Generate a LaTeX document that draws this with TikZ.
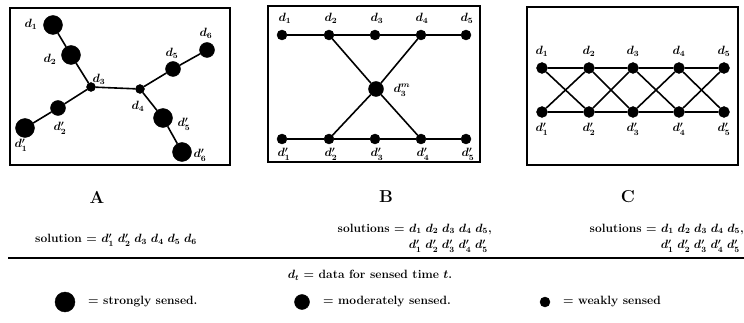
\documentclass[tikz,border=0pt]{standalone}
\usepackage{amsmath,amssymb}
\usepackage{tikz}
\usetikzlibrary{positioning}
\pgfdeclarelayer{edgelayer}
\pgfdeclarelayer{nodelayer}
\pgfsetlayers{edgelayer,nodelayer,main}
\tikzstyle{none}=[inner sep=0mm]
\tikzstyle{lbl}=[inner sep=0mm,font=\large\bfseries\boldmath]
\tikzstyle{black dot}=[inner sep=0mm,minimum width=0pt,minimum height=0pt,fill=black,draw=black,shape=circle]
\tikzstyle{strong}=[black dot,minimum size=19pt]
\tikzstyle{moderate}=[black dot,minimum size=15pt]
\tikzstyle{weak}=[black dot,minimum size=9pt]
\tikzstyle{plain}=[black dot,minimum size=11pt]
\tikzstyle{link}=[line width=1.6pt]
\tikzstyle{frame}=[line width=1.4pt]
\begin{document}
\begin{tikzpicture}[x=1pt,y=-1pt]
	\useasboundingbox (0,0) rectangle (744,323);
	% frames
	\draw[style=frame] (10,8) rectangle (230,165);
	\draw[style=frame] (268,6) rectangle (480,162);
	\draw[style=frame] (527,7) rectangle (738,165);
	\begin{pgfonlayer}{nodelayer}
		% panel A
		\node [style=strong] (a1) at (53,25) {};
		\node [style=strong] (a2) at (71,55) {};
		\node [style=weak] (a3) at (91,87) {};
		\node [style=weak] (a4) at (140,89) {};
		\node [style=moderate] (a5) at (173,69) {};
		\node [style=moderate] (a6) at (207,50) {};
		\node [style=moderate] (ap2) at (58,108) {};
		\node [style=strong] (ap1) at (25,128) {};
		\node [style=strong] (ap5) at (163,118) {};
		\node [style=strong] (ap6) at (182,152) {};
		\node [style=lbl] (la1) at (31,24) {$d_1$};
		\node [style=lbl] (la2) at (50,59) {$d_2$};
		\node [style=lbl] (la3) at (99,79) {$d_3$};
		\node [style=lbl] (la4) at (138,106) {$d_4$};
		\node [style=lbl] (la5) at (172,53) {$d_5$};
		\node [style=lbl] (la6) at (206,33) {$d_6$};
		\node [style=lbl] (lap2) at (60,128) {$d'_2$};
		\node [style=lbl] (lap1) at (21,145) {$d'_1$};
		\node [style=lbl] (lap5) at (184,124) {$d'_5$};
		\node [style=lbl] (lap6) at (200,155) {$d'_6$};
		% panel B
		\node [style=weak,minimum size=10pt] (b1) at (282,35) {};
		\node [style=weak,minimum size=10pt] (b2) at (329,35) {};
		\node [style=weak,minimum size=10pt] (b3) at (375,35) {};
		\node [style=weak,minimum size=10pt] (b4) at (421,35) {};
		\node [style=weak,minimum size=10pt] (b5) at (466,35) {};
		\node [style=moderate] (bm) at (376,89) {};
		\node [style=weak,minimum size=10pt] (bp1) at (282,139) {};
		\node [style=weak,minimum size=10pt] (bp2) at (329,139) {};
		\node [style=weak,minimum size=10pt] (bp3) at (375,139) {};
		\node [style=weak,minimum size=10pt] (bp4) at (421,139) {};
		\node [style=weak,minimum size=10pt] (bp5) at (466,139) {};
		\node [style=lbl] (lb1) at (285,18) {$d_1$};
		\node [style=lbl] (lb2) at (331,18) {$d_2$};
		\node [style=lbl] (lb3) at (377,18) {$d_3$};
		\node [style=lbl] (lb4) at (422,18) {$d_4$};
		\node [style=lbl] (lb5) at (467,18) {$d_5$};
		\node [style=lbl] (lbm) at (402,90) {$d^m_3$};
		\node [style=lbl] (lbp1) at (284,154) {$d'_1$};
		\node [style=lbl] (lbp2) at (331,154) {$d'_2$};
		\node [style=lbl] (lbp3) at (377,154) {$d'_3$};
		\node [style=lbl] (lbp4) at (423,154) {$d'_4$};
		\node [style=lbl] (lbp5) at (468,154) {$d'_5$};
		% panel C
		\node [style=plain] (c1) at (542,68) {};
		\node [style=plain] (c2) at (589,68) {};
		\node [style=plain] (c3) at (633,68) {};
		\node [style=plain] (c4) at (679,68) {};
		\node [style=plain] (c5) at (724,68) {};
		\node [style=plain] (cp1) at (542,112) {};
		\node [style=plain] (cp2) at (589,112) {};
		\node [style=plain] (cp3) at (633,112) {};
		\node [style=plain] (cp4) at (679,112) {};
		\node [style=plain] (cp5) at (724,112) {};
		\node [style=lbl] (lc1) at (542,51) {$d_1$};
		\node [style=lbl] (lc2) at (589,51) {$d_2$};
		\node [style=lbl] (lc3) at (633,51) {$d_3$};
		\node [style=lbl] (lc4) at (679,51) {$d_4$};
		\node [style=lbl] (lc5) at (724,51) {$d_5$};
		\node [style=lbl] (lcp1) at (542,129) {$d'_1$};
		\node [style=lbl] (lcp2) at (589,129) {$d'_2$};
		\node [style=lbl] (lcp3) at (633,129) {$d'_3$};
		\node [style=lbl] (lcp4) at (679,129) {$d'_4$};
		\node [style=lbl] (lcp5) at (724,129) {$d'_5$};
	\end{pgfonlayer}
	\begin{pgfonlayer}{edgelayer}
		\draw[style=link] (a1) to (a2);
		\draw[style=link] (a2) to (a3);
		\draw[style=link] (a3) to (ap2);
		\draw[style=link] (ap2) to (ap1);
		\draw[style=link] (a3) to (a4);
		\draw[style=link] (a4) to (a5);
		\draw[style=link] (a5) to (a6);
		\draw[style=link] (a4) to (ap5);
		\draw[style=link] (ap5) to (ap6);
		\draw[style=link] (b1) to (b2) to (b3) to (b4) to (b5);
		\draw[style=link] (bp1) to (bp2) to (bp3) to (bp4) to (bp5);
		\draw[style=link] (b2) to (bm);
		\draw[style=link] (b4) to (bm);
		\draw[style=link] (bm) to (bp2);
		\draw[style=link] (bm) to (bp4);
		\draw[style=link] (c1) to (c2) to (c3) to (c4) to (c5);
		\draw[style=link] (cp1) to (cp2) to (cp3) to (cp4) to (cp5);
		\foreach \i/\j in {1/2,2/3,3/4,4/5} {
			\draw[style=link] (c\i) to (cp\j);
			\draw[style=link] (cp\i) to (c\j);
		}
	\end{pgfonlayer}
	% captions
	\node [style=lbl,font=\LARGE\bfseries] (capA) at (97,197) {A};
	\node [style=lbl,font=\LARGE\bfseries] (capB) at (386,197) {B};
	\node [style=lbl,font=\LARGE\bfseries] (capC) at (628,197) {C};
	\node [style=lbl] (solA) at (116,240) {solution = $d'_1\;d'_2\;d_3\;d_4\;d_5\;d_6$};
	\node [style=lbl,anchor=east] (solB1) at (492,229) {solutions = $d_1\;d_2\;d_3\;d_4\;d_5$,};
	\node [style=lbl,anchor=east] (solB2) at (488,246) {$d'_1\;d'_2\;d'_3\;d'_4\;d'_5$};
	\node [style=lbl,anchor=east] (solC1) at (744,229) {solutions = $d_1\;d_2\;d_3\;d_4\;d_5$,};
	\node [style=lbl,anchor=east] (solC2) at (740,246) {$d'_1\;d'_2\;d'_3\;d'_4\;d'_5$};
	\draw[line width=1.3pt] (8,258) -- (744,258);
	\node [style=lbl] (key) at (370,275) {$d_t$ = data for sensed time $t$.};
	% legend
	\node [style=strong,minimum size=20pt] (kbig) at (65,302) {};
	\node [style=lbl,anchor=west] (tbig) at (88,302) {= strongly sensed.};
	\node [style=moderate] (kmid) at (302,302) {};
	\node [style=lbl,anchor=west] (tmid) at (323,302) {= moderately sensed.};
	\node [style=weak,minimum size=10pt] (ksml) at (545,302) {};
	\node [style=lbl,anchor=west] (tsml) at (563,302) {= weakly sensed};
\end{tikzpicture}
\end{document}
